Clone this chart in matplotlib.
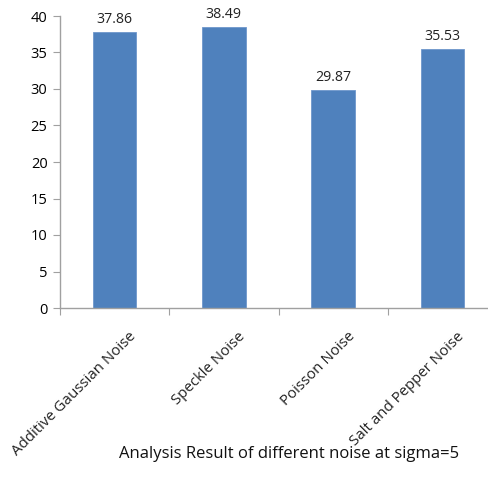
import matplotlib
matplotlib.use("Agg")
import matplotlib.pyplot as plt
import matplotlib.transforms as mtransforms

categories = ["Additive Gaussian Noise", "Speckle Noise", "Poisson Noise", "Salt and Pepper Noise"]
values = [37.86, 38.49, 29.87, 35.53]
yticks = [0, 5, 10, 15, 20, 25, 30, 35, 40]
title = "Analysis Result of different noise at sigma=5"

plt.rcParams['font.family'] = ['Open Sans', 'DejaVu Sans']

fig = plt.figure(figsize=(4.88, 4.96), dpi=100)
W, H = 488, 496
left, right, bottom, top = 60, 497, 308, 16
ax = fig.add_axes([left / W, (H - bottom) / H, (right - left) / W, (bottom - top) / H])

x = list(range(len(categories)))
ax.bar(x, values, width=0.4, color="#4F81BD", edgecolor="#6F97CC", linewidth=0.6, zorder=2)
for xi, v in zip(x, values):
    ax.text(xi, v + 0.7, f"{v:.2f}", ha="center", va="bottom", fontsize=10.2, color="#222222")

ax.set_xlim(-0.5, len(categories) - 0.5)
ax.set_ylim(0, 40)
ax.set_yticks(yticks)
ax.set_yticklabels([str(t) for t in yticks], fontsize=10.5)

ax.set_xticks([i - 0.5 for i in range(len(categories) + 1)])
ax.set_xticklabels([])
ax.tick_params(axis="x", which="major", length=5, color="#A0A0A0", direction="out")
ax.tick_params(axis="y", length=5, color="#A0A0A0", direction="out", pad=4)

# rotated category labels, nudged right of each category centre
shift = mtransforms.ScaledTranslation(14 / 100, -21 / 100, fig.dpi_scale_trans)
for xi, name in zip(x, categories):
    ax.text(xi, 0, name, rotation=45, ha="right", va="top", rotation_mode="anchor",
            fontsize=10.8, color="#222222",
            transform=ax.get_xaxis_transform() + shift)

for s in ["top", "right"]:
    ax.spines[s].set_visible(False)
for s in ["left", "bottom"]:
    ax.spines[s].set_color("#A0A0A0")
    ax.spines[s].set_linewidth(1.0)

fig.text(289 / W, 1 - 454 / H, title, ha="center", va="center", fontsize=12, color="#111111")

fig.savefig("out.png", dpi=100)
